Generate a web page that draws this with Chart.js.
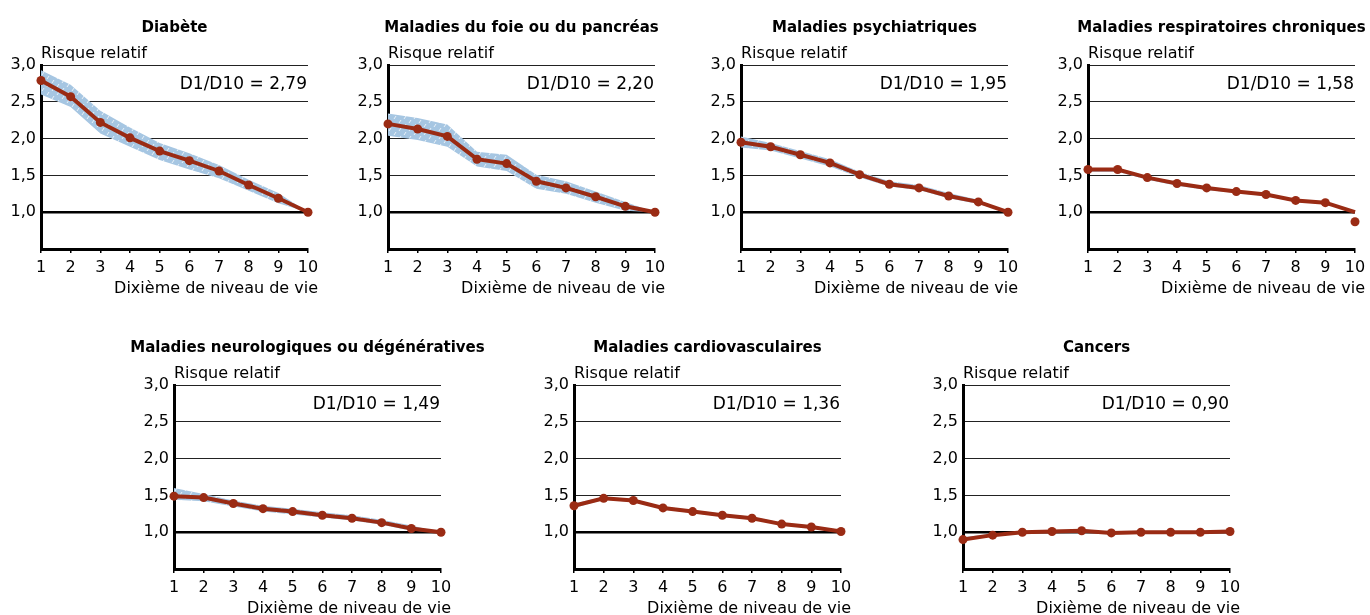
<!DOCTYPE html>
<html>
<head>
<meta charset="utf-8">
<script src="https://cdn.jsdelivr.net/npm/chart.js@4.4.1/dist/chart.umd.min.js"></script>
<style>
  html, body { margin: 0; padding: 0; background: #fff; }
  body { width: 1370px; height: 615px; overflow: hidden; position: relative; }
  canvas.panel { position: absolute; }
</style>
</head>
<body>
<script>
// Dixièmes de niveau de vie (axe horizontal)
const deciles = [1, 2, 3, 4, 5, 6, 7, 8, 9, 10];
// Graduations de l'axe vertical
const yTickValues = [1, 1.5, 2, 2.5, 3];
const yTickLabels = ['1,0', '1,5', '2,0', '2,5', '3,0'];

const titles = [
  'Diabète',
  'Maladies du foie ou du pancréas',
  'Maladies psychiatriques',
  'Maladies respiratoires chroniques',
  'Maladies neurologiques ou dégénératives',
  'Maladies cardiovasculaires',
  'Cancers'
];
const ratioLabels = ['2,79', '2,20', '1,95', '1,58', '1,49', '1,36', '0,90'];

// Risque relatif par dixième, avec bornes de l'intervalle de confiance
const diabete      = [2.79, 2.57, 2.22, 2.01, 1.83, 1.70, 1.56, 1.37, 1.19, 1.00];
const diabeteHaut  = [2.93, 2.73, 2.38, 2.15, 1.94, 1.80, 1.64, 1.44, 1.26, 1.00];
const diabeteBas   = [2.60, 2.43, 2.07, 1.89, 1.71, 1.58, 1.46, 1.29, 1.12, 1.00];

const foie         = [2.20, 2.13, 2.03, 1.72, 1.66, 1.42, 1.33, 1.21, 1.08, 1.00];
const foieHaut     = [2.34, 2.28, 2.19, 1.82, 1.78, 1.51, 1.42, 1.28, 1.14, 1.00];
const foieBas      = [2.04, 1.98, 1.89, 1.62, 1.56, 1.32, 1.25, 1.13, 1.02, 1.00];

const psy          = [1.95, 1.89, 1.78, 1.67, 1.51, 1.38, 1.33, 1.22, 1.14, 1.00];
const psyHaut      = [2.03, 1.94, 1.83, 1.72, 1.55, 1.42, 1.37, 1.26, 1.17, 1.00];
const psyBas       = [1.88, 1.84, 1.73, 1.62, 1.47, 1.35, 1.30, 1.19, 1.11, 1.00];

const respi        = [1.58, 1.58, 1.47, 1.39, 1.33, 1.28, 1.24, 1.16, 1.13, 1.00];
const respiHaut    = [1.60, 1.60, 1.48, 1.40, 1.34, 1.29, 1.25, 1.17, 1.14, 1.00];
const respiBas     = [1.55, 1.55, 1.44, 1.36, 1.30, 1.26, 1.22, 1.14, 1.11, 1.00];
const respiPointD10 = 0.87;

const neuro        = [1.49, 1.47, 1.39, 1.32, 1.28, 1.23, 1.19, 1.13, 1.05, 1.00];
const neuroHaut    = [1.60, 1.52, 1.43, 1.36, 1.32, 1.27, 1.23, 1.17, 1.09, 1.00];
const neuroBas     = [1.44, 1.42, 1.35, 1.28, 1.24, 1.20, 1.16, 1.10, 1.02, 1.00];

const cardio       = [1.36, 1.46, 1.43, 1.33, 1.28, 1.23, 1.19, 1.11, 1.07, 1.01];
const cardioHaut   = [1.39, 1.48, 1.45, 1.35, 1.30, 1.25, 1.21, 1.13, 1.09, 1.02];
const cardioBas    = [1.33, 1.44, 1.41, 1.31, 1.26, 1.21, 1.17, 1.10, 1.06, 1.00];

const cancers      = [0.90, 0.96, 1.00, 1.01, 1.02, 0.99, 1.00, 1.00, 1.00, 1.01];
const cancersHaut  = [0.93, 0.98, 1.01, 1.02, 1.04, 1.00, 1.01, 1.01, 1.01, 1.02];
const cancersBas   = [0.88, 0.95, 0.99, 1.00, 1.01, 0.98, 0.99, 0.99, 0.99, 1.00];

const series = [
  { v: diabete, hi: diabeteHaut, lo: diabeteBas },
  { v: foie,    hi: foieHaut,    lo: foieBas },
  { v: psy,     hi: psyHaut,     lo: psyBas },
  { v: respi,   hi: respiHaut,   lo: respiBas, lastPoint: respiPointD10 },
  { v: neuro,   hi: neuroHaut,   lo: neuroBas },
  { v: cardio,  hi: cardioHaut,  lo: cardioBas },
  { v: cancers, hi: cancersHaut, lo: cancersBas }
];

// Placement des panneaux : bord gauche et haut de la zone de tracé
const panelLeft = [41, 388, 741, 1088, 174, 574, 963];
const panelTop  = [65, 65, 65, 65, 385, 385, 385];

const PLOT_W = 267, PLOT_H = 184;
const PAD_L = 60, PAD_R = 65, PAD_T = 50, PAD_B = 10;
const Y_AXIS_W = 40, X_AXIS_H = 40;

const RED = '#9a2b14';
const INK = '#000';
const FONT = '"DejaVu Sans", sans-serif';

// Motif hachuré de l'intervalle de confiance
function makeHatch() {
  const c = document.createElement('canvas');
  c.width = 10; c.height = 8;
  const g = c.getContext('2d');
  g.fillStyle = '#a6c6e2';
  g.fillRect(0, 0, 10, 8);
  g.strokeStyle = 'rgba(255,255,255,0.75)';
  g.lineWidth = 1;
  g.beginPath();
  g.moveTo(1, 4); g.lineTo(3, 1);
  g.moveTo(6, 8); g.lineTo(8, 5);
  g.stroke();
  return g.createPattern(c, 'repeat');
}
const hatch = makeHatch();

const panelText = {
  id: 'panelText',
  afterDraw(chart, args, opts) {
    const { ctx, chartArea: a } = chart;
    ctx.save();
    ctx.fillStyle = INK;
    ctx.textBaseline = 'alphabetic';
    ctx.font = 'bold 15px ' + FONT;
    ctx.textAlign = 'center';
    ctx.fillText(opts.title, (a.left + a.right) / 2, a.top - 33.5);
    ctx.font = '16px ' + FONT;
    ctx.textAlign = 'left';
    ctx.fillText('Risque relatif', a.left, a.top - 6.7);
    ctx.textAlign = 'right';
    ctx.font = '17px ' + FONT;
    ctx.fillText('D1/D10 = ' + opts.ratio, a.right - 1, a.top + 24.3);
    ctx.font = '16px ' + FONT;
    ctx.fillText('Dixième de niveau de vie', a.right + 10, a.bottom + 44.3);
    ctx.restore();
  }
};

function pts(arr) { return arr.map((y, i) => ({ x: deciles[i], y })); }

series.forEach((s, i) => {
  const cv = document.createElement('canvas');
  cv.className = 'panel';
  const w = PAD_L + PLOT_W + PAD_R, h = PAD_T + PLOT_H + X_AXIS_H + PAD_B;
  cv.width = w; cv.height = h;
  cv.style.left = (panelLeft[i] - PAD_L) + 'px';
  cv.style.top = (panelTop[i] - PAD_T) + 'px';
  cv.style.width = w + 'px'; cv.style.height = h + 'px';
  document.body.appendChild(cv);

  const radii = deciles.map(() => 4.5);
  const datasets = [
    { data: pts(s.hi), fill: '+1', backgroundColor: hatch, borderWidth: 0, pointRadius: 0, order: 3 },
    { data: pts(s.lo), fill: false, borderWidth: 0, pointRadius: 0, order: 3 },
  ];
  if (s.lastPoint !== undefined) {
    radii[radii.length - 1] = 0;
    datasets.push({
      data: [{ x: deciles[deciles.length - 1], y: s.lastPoint }],
      showLine: false, pointRadius: 4.5, pointBackgroundColor: RED, pointBorderWidth: 0, clip: false, order: 1
    });
  }
  datasets.push({
    data: pts(s.v), borderColor: RED, borderWidth: 4, tension: 0,
    pointRadius: radii, pointBackgroundColor: RED, pointBorderWidth: 0,
    fill: false, clip: false, order: 1
  });

  new Chart(cv, {
    type: 'line',
    data: { datasets },
    options: {
      responsive: false,
      animation: false,
      devicePixelRatio: 1,
      layout: { padding: { left: PAD_L - Y_AXIS_W, right: PAD_R, top: PAD_T, bottom: PAD_B } },
      plugins: {
        legend: { display: false },
        tooltip: { enabled: false },
        panelText: { title: titles[i], ratio: ratioLabels[i] }
      },
      scales: {
        x: {
          type: 'linear', min: 1, max: 10,
          afterFit: sc => { sc.height = X_AXIS_H; },
          afterBuildTicks: sc => { sc.ticks = deciles.map(v => ({ value: v })); },
          ticks: { autoSkip: false, maxRotation: 0, padding: 5, color: INK,
                   font: { family: FONT, size: 16 }, callback: v => String(v) },
          grid: { drawOnChartArea: false, drawTicks: true, tickLength: 4, color: '#000', lineWidth: 1.5 },
          border: { display: true, color: '#000', width: 3 }
        },
        y: {
          min: 0.5, max: 3,
          afterFit: sc => { sc.width = Y_AXIS_W; },
          afterBuildTicks: sc => { sc.ticks = [0.5].concat(yTickValues).map(v => ({ value: v })); },
          ticks: { padding: 5, color: INK, font: { family: FONT, size: 16 },
                   callback: v => { const k = yTickValues.indexOf(v); return k < 0 ? '' : yTickLabels[k]; } },
          grid: {
            drawTicks: false,
            color: c => c.tick.value === 1 ? '#000' : (c.tick.value === 0.5 ? 'rgba(0,0,0,0)' : '#222'),
            lineWidth: c => c.tick.value === 1 ? 2.5 : 1
          },
          border: { display: true, color: '#000', width: 3 }
        }
      }
    },
    plugins: [panelText]
  });
});
</script>
</body>
</html>
